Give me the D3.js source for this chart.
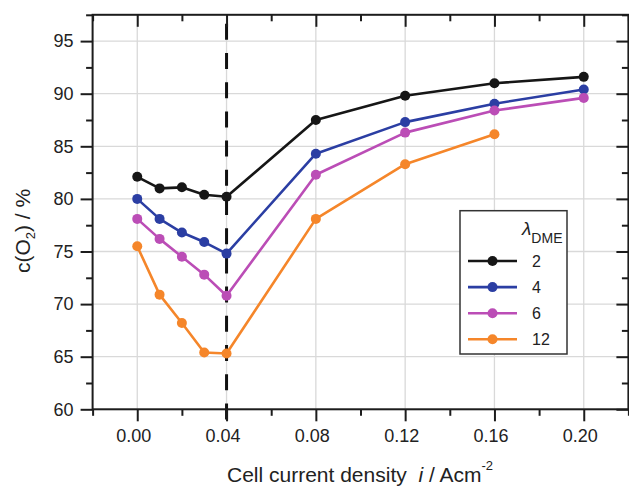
<!DOCTYPE html>
<html>
<head>
<meta charset="utf-8">
<script src="https://cdn.jsdelivr.net/npm/d3@7"></script>
<style>
  html, body { margin: 0; padding: 0; background: #fff; }
  svg { display: block; font-family: "Liberation Sans", Arial, Helvetica, sans-serif; }
</style>
</head>
<body>
<svg id="chart" width="629" height="486"></svg>
<script>
// ---- data ----
const xValues = [0, 0.01, 0.02, 0.03, 0.04, 0.08, 0.12, 0.16, 0.20];
const seriesLabels = ["2", "4", "6", "12"];
const seriesColors = ["#161616", "#2b3ea3", "#bb4db6", "#f5862a"];
const series2  = [82.1, 81.0, 81.1, 80.4, 80.2, 87.5, 89.8, 91.0, 91.6];
const series4  = [80.0, 78.1, 76.8, 75.9, 74.8, 84.3, 87.3, 89.05, 90.4];
const series6  = [78.1, 76.2, 74.5, 72.8, 70.8, 82.3, 86.3, 88.4, 89.6];
const series12 = [75.5, 70.9, 68.2, 65.4, 65.3, 78.1, 83.3, 86.15, null];
const xMajorTicks = [0, 0.04, 0.08, 0.12, 0.16, 0.20];
const xTickLabels = ["0.00", "0.04", "0.08", "0.12", "0.16", "0.20"];
const xMinorTicks = [-0.02, 0.02, 0.06, 0.10, 0.14, 0.18, 0.22];
const yMajorTicks = [60, 65, 70, 75, 80, 85, 90, 95];
const yMinorTicks = [62.5, 67.5, 72.5, 77.5, 82.5, 87.5, 92.5, 97.5];
const refLineX = 0.04;

const allSeries = [series2, series4, series6, series12];

// ---- layout ----
const svg = d3.select("#chart");
const L = 92.6, R = 628.4, T = 14.8, B = 409.3;
const x = d3.scaleLinear().domain([-0.02, 0.22]).range([L, R]);
const y = d3.scaleLinear().domain([60, 97.5]).range([B, T]);
const axisColor = "#1c1c1c";

// gridlines
const grid = svg.append("g");
grid.selectAll("line.gx").data(xMajorTicks).join("line")
  .attr("x1", d => x(d)).attr("x2", d => x(d)).attr("y1", T).attr("y2", B)
  .attr("stroke", "#d9d9d9").attr("stroke-width", 1.3);
grid.selectAll("line.gy").data(yMajorTicks).join("line")
  .attr("x1", L).attr("x2", R).attr("y1", d => y(d)).attr("y2", d => y(d))
  .attr("stroke", "#d9d9d9").attr("stroke-width", 1.3);

// reference dashed line
svg.append("line")
  .attr("x1", x(refLineX)).attr("x2", x(refLineX))
  .attr("y1", T + 9).attr("y2", B + 12)
  .attr("stroke", "#111").attr("stroke-width", 3)
  .attr("stroke-dasharray", "16,13.2");

// axes helper
function styleAxis(g) {
  g.select(".domain").remove();
  g.selectAll(".tick line").attr("stroke", axisColor).attr("stroke-width", 2);
  g.selectAll("text").attr("fill", "#222").style("font-size", "18px")
    .style("font-family", "'Liberation Sans', Arial, sans-serif");
}

// bottom
svg.append("g").attr("transform", `translate(0,${B})`)
  .call(d3.axisBottom(x).tickValues(xMajorTicks).tickSize(12).tickPadding(8)
    .tickFormat((d, i) => xTickLabels[i]))
  .call(styleAxis)
  .call(g => g.selectAll("text").attr("dx", "-4"));
svg.append("g").attr("transform", `translate(0,${B})`)
  .call(d3.axisBottom(x).tickValues(xMinorTicks).tickSize(6.5).tickFormat(""))
  .call(styleAxis);
// top (inward)
svg.append("g").attr("transform", `translate(0,${T})`)
  .call(d3.axisBottom(x).tickValues(xMajorTicks).tickSize(12).tickFormat(""))
  .call(styleAxis);
svg.append("g").attr("transform", `translate(0,${T})`)
  .call(d3.axisBottom(x).tickValues(xMinorTicks).tickSize(6.5).tickFormat(""))
  .call(styleAxis);
// left
svg.append("g").attr("transform", `translate(${L},0)`)
  .call(d3.axisLeft(y).tickValues(yMajorTicks).tickSize(12).tickPadding(7)
    .tickFormat(d3.format("d")))
  .call(styleAxis);
svg.append("g").attr("transform", `translate(${L},0)`)
  .call(d3.axisLeft(y).tickValues(yMinorTicks).tickSize(6.5).tickFormat(""))
  .call(styleAxis);
// right (inward)
svg.append("g").attr("transform", `translate(${R},0)`)
  .call(d3.axisLeft(y).tickValues(yMajorTicks).tickSize(12).tickFormat(""))
  .call(styleAxis);
svg.append("g").attr("transform", `translate(${R},0)`)
  .call(d3.axisLeft(y).tickValues(yMinorTicks).tickSize(6.5).tickFormat(""))
  .call(styleAxis);

// frame
svg.append("rect").attr("x", L).attr("y", T).attr("width", R - L).attr("height", B - T)
  .attr("fill", "none").attr("stroke", axisColor).attr("stroke-width", 2);

// series
const line = d3.line()
  .defined(d => d.v !== null)
  .x(d => x(d.x)).y(d => y(d.v));
allSeries.forEach((s, i) => {
  const pts = s.map((v, j) => ({ x: xValues[j], v }));
  svg.append("path").datum(pts)
    .attr("d", line).attr("fill", "none")
    .attr("stroke", seriesColors[i]).attr("stroke-width", 2.6)
    .attr("stroke-linejoin", "round");
  svg.append("g").selectAll("circle").data(pts.filter(d => d.v !== null)).join("circle")
    .attr("cx", d => x(d.x)).attr("cy", d => y(d.v)).attr("r", 5)
    .attr("fill", seriesColors[i]);
});

// axis titles
svg.append("text")
  .attr("transform", "translate(30,231) rotate(-90)")
  .attr("text-anchor", "middle").style("font-size", "21px").attr("fill", "#222")
  .call(t => {
    t.append("tspan").text("c(O");
    t.append("tspan").text("2").style("font-size", "13px").attr("dy", "5");
    t.append("tspan").text(") / %").attr("dy", "-5");
  });

svg.append("text")
  .attr("x", 360).attr("y", 482)
  .attr("text-anchor", "middle").style("font-size", "21px").attr("fill", "#222")
  .call(t => {
    t.append("tspan").text("Cell current density\u00a0\u00a0");
    t.append("tspan").text("i").style("font-style", "italic");
    t.append("tspan").text(" / Acm");
    t.append("tspan").text("-2").style("font-size", "13px").attr("dy", "-12");
  });

// legend
const lg = svg.append("g");
lg.append("rect").attr("x", 460).attr("y", 210.7).attr("width", 107).attr("height", 143.3)
  .attr("fill", "#fff").attr("stroke", "#333").attr("stroke-width", 1.5);
lg.append("text").attr("x", 522).attr("y", 235).attr("fill", "#222")
  .call(t => {
    t.append("tspan").text("\u03bb").style("font-style", "italic").style("font-size", "19px");
    t.append("tspan").text("DME").style("font-size", "14px").attr("dy", "8");
  });
seriesLabels.forEach((lab, i) => {
  const yy = 261 + i * 26.1;
  lg.append("line").attr("x1", 468).attr("x2", 517).attr("y1", yy).attr("y2", yy)
    .attr("stroke", seriesColors[i]).attr("stroke-width", 2.6);
  lg.append("circle").attr("cx", 492.5).attr("cy", yy).attr("r", 5).attr("fill", seriesColors[i]);
  lg.append("text").attr("x", 532).attr("y", yy).attr("dy", "0.36em")
    .style("font-size", "16px").attr("fill", "#222").text(lab);
});
</script>
</body>
</html>
